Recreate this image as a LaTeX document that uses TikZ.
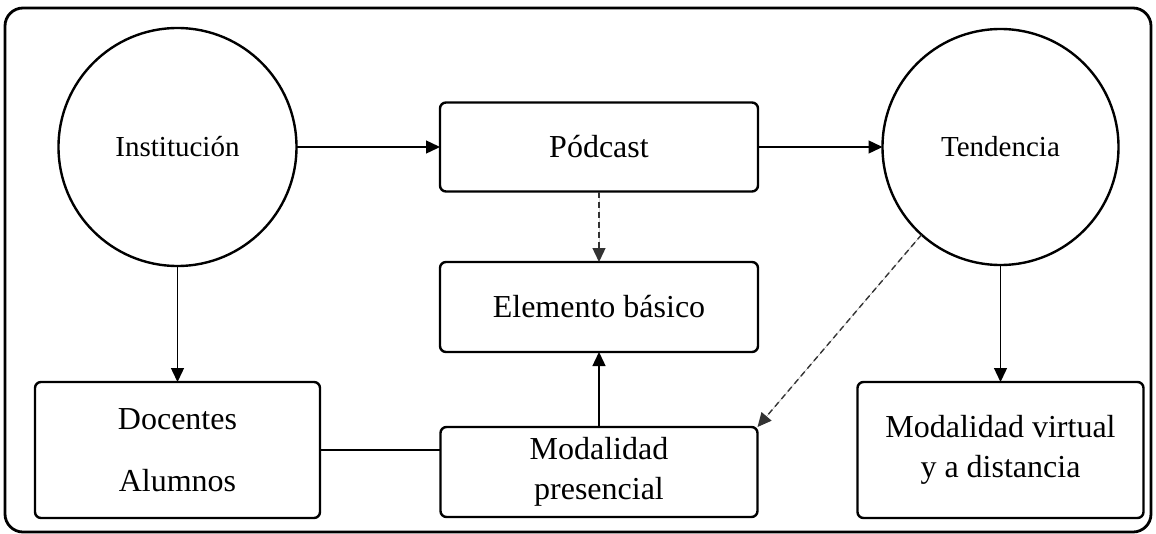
\documentclass[tikz,border=0pt]{standalone}
\usepackage{fontspec}
\setmainfont{Liberation Serif}
\usetikzlibrary{arrows.meta}
\begin{document}
\begin{tikzpicture}[x=1pt,y=-1pt,
  every node/.style={inner sep=0pt, outer sep=0pt},
  circ/.style={circle, draw, line width=2.4pt, font=\fontsize{29}{34}\selectfont},
  rbox/.style={rectangle, rounded corners=6pt, draw, line width=2.4pt, align=center, font=\fontsize{32}{40}\selectfont},
  conn/.style={line width=1.4pt, -{Triangle[length=14pt,width=13pt]}},
  plain/.style={line width=1.4pt},
  dconn/.style={conn, dash pattern=on 6pt off 4pt, draw=black!80, fill=black}
]
\useasboundingbox (0,0) rectangle (1156,533);
\draw[line width=2.8pt, rounded corners=18pt] (5,8) rectangle (1151,532);

\node[circ, minimum size=238pt] (inst) at (177.5,147) {Institución};
\node[circ, minimum size=236pt] (ten) at (1000.5,147) {Tendencia};
\node[rbox, minimum width=318pt, minimum height=89pt] (pod) at (599,147) {Pódcast};
\node[rbox, minimum width=318pt, minimum height=90pt] (elem) at (599,307) {Elemento básico};
\node[rbox, minimum width=285pt, minimum height=136pt] (doc) at (177.5,450) {Docentes\\[22pt]Alumnos};
\node[rbox, minimum width=317pt, minimum height=90pt] (pres) at (599,472) {Modalidad\\presencial};
\node[rbox, minimum width=286pt, minimum height=136pt] (virt) at (1000.5,450) {Modalidad virtual\\y a distancia};

\draw[conn] (inst.east) -- (pod.west);
\draw[conn] (pod.east) -- (ten.west);
\draw[dconn] (pod.south) -- (elem.north);
\draw[conn] (pres.north) -- (elem.south);
\draw[conn] (inst.south) -- (doc.north);
\draw[conn] (ten.south) -- (virt.north);
\draw[plain] (doc.east) -- (doc.east -| pres.west);
\draw[dconn] (ten.228) -- (pres.north east);
\end{tikzpicture}
\end{document}
